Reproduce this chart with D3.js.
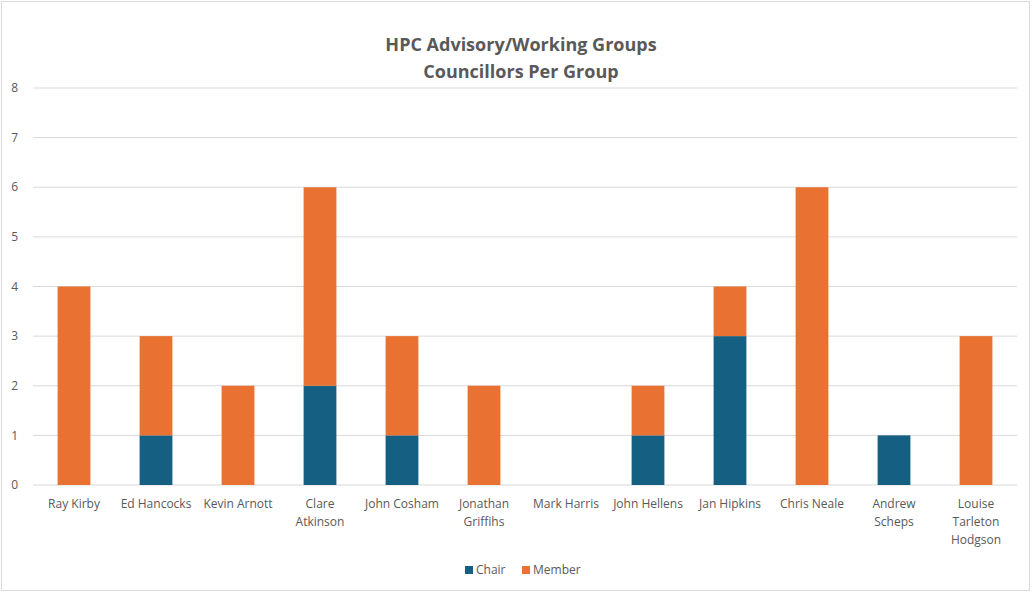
<!DOCTYPE html>
<html>
<head>
<meta charset="utf-8">
<script src="https://cdn.jsdelivr.net/npm/d3@7"></script>
<style>
  body { margin: 0; background: #fff; }
  text { font-family: "Open Sans", "Liberation Sans", sans-serif; fill: #595959; }
</style>
</head>
<body>
<script>
// councillors and their counts per group role
const names = ["Ray Kirby", "Ed Hancocks", "Kevin Arnott", "Clare Atkinson", "John Cosham",
  "Jonathan Griffihs", "Mark Harris", "John Hellens", "Jan Hipkins", "Chris Neale",
  "Andrew Scheps", "Louise Tarleton Hodgson"];
const chair  = [0, 1, 0, 2, 1, 0, 0, 1, 3, 0, 1, 0];
const member = [4, 2, 2, 4, 2, 2, 0, 1, 1, 6, 0, 3];
const seriesNames = ["Chair", "Member"];
const yTicks = [0, 1, 2, 3, 4, 5, 6, 7, 8];
// how the long names wrap under the axis
const labelLines = [["Ray Kirby"], ["Ed Hancocks"], ["Kevin Arnott"], ["Clare", "Atkinson"],
  ["John Cosham"], ["Jonathan", "Griffihs"], ["Mark Harris"], ["John Hellens"], ["Jan Hipkins"],
  ["Chris Neale"], ["Andrew", "Scheps"], ["Louise", "Tarleton", "Hodgson"]];

const W = 1036, H = 594;
const margin = {top: 88, right: 19, bottom: 109, left: 33};
const colors = ["#156082", "#e97132"];

const svg = d3.select("body").append("svg")
    .attr("width", W)
    .attr("height", H);

// outer chart border
svg.append("rect")
  .attr("x", 1.5).attr("y", 1.5)
  .attr("width", 1028).attr("height", 589)
  .attr("fill", "#fff")
  .attr("stroke", "#d9d9d9");

const x = d3.scaleBand()
    .domain(names)
    .range([margin.left, W - margin.right])
    .paddingInner(0.6)
    .paddingOuter(0.3);

const y = d3.scaleLinear()
    .domain([0, 8])
    .range([H - margin.bottom, margin.top]);

// gridlines
svg.append("g")
  .selectAll("line")
  .data(yTicks)
  .enter().append("line")
    .attr("x1", margin.left).attr("x2", W - margin.right)
    .attr("y1", d => y(d)).attr("y2", d => y(d))
    .attr("stroke", "#d9d9d9")
    .attr("stroke-width", 1);

// y labels
svg.append("g")
  .selectAll("text")
  .data(yTicks)
  .enter().append("text")
    .attr("x", 18)
    .attr("y", d => y(d))
    .attr("dy", "0.35em")
    .style("text-anchor", "end")
    .style("font-size", "12px")
    .text(d => d);

// stack the two series
const rows = names.map((n, i) => ({name: n, Chair: chair[i], Member: member[i]}));
const stacked = d3.stack().keys(seriesNames)(rows);

svg.append("g")
  .selectAll("g")
  .data(stacked)
  .enter().append("g")
    .attr("fill", (d, i) => colors[i])
  .selectAll("rect")
  .data(d => d)
  .enter().append("rect")
    .attr("x", d => x(d.data.name))
    .attr("width", x.bandwidth())
    .attr("y", d => y(d[1]))
    .attr("height", d => y(d[0]) - y(d[1]));

// x category labels
const xl = svg.append("g")
  .selectAll("text")
  .data(names)
  .enter().append("text")
    .attr("x", d => x(d) + x.bandwidth() / 2)
    .attr("y", H - margin.bottom + 23)
    .style("text-anchor", "middle")
    .style("font-size", "12px");
xl.each(function(d, i) {
  d3.select(this).selectAll("tspan")
    .data(labelLines[i])
    .enter().append("tspan")
      .attr("x", x(d) + x.bandwidth() / 2)
      .attr("dy", (t, j) => j === 0 ? 0 : "1.5em")
      .text(t => t);
});

// title
svg.append("text")
  .attr("x", 521).attr("y", 51)
  .style("text-anchor", "middle")
  .style("font-size", "18px")
  .style("font-weight", "bold")
  .text("HPC Advisory/Working Groups");
svg.append("text")
  .attr("x", 521).attr("y", 78)
  .style("text-anchor", "middle")
  .style("font-size", "18px")
  .style("font-weight", "bold")
  .text("Councillors Per Group");

// legend
const legend = svg.append("g")
  .attr("transform", "translate(465,570)");
const items = legend.selectAll("g")
  .data(seriesNames)
  .enter().append("g")
    .attr("transform", (d, i) => "translate(" + (i * 57) + ",0)");
items.append("rect")
  .attr("x", 0).attr("y", -4)
  .attr("width", 8).attr("height", 8)
  .attr("fill", (d, i) => colors[i]);
items.append("text")
  .attr("x", 11)
  .attr("dy", "0.35em")
  .style("font-size", "12px")
  .text(d => d);
</script>
</body>
</html>
